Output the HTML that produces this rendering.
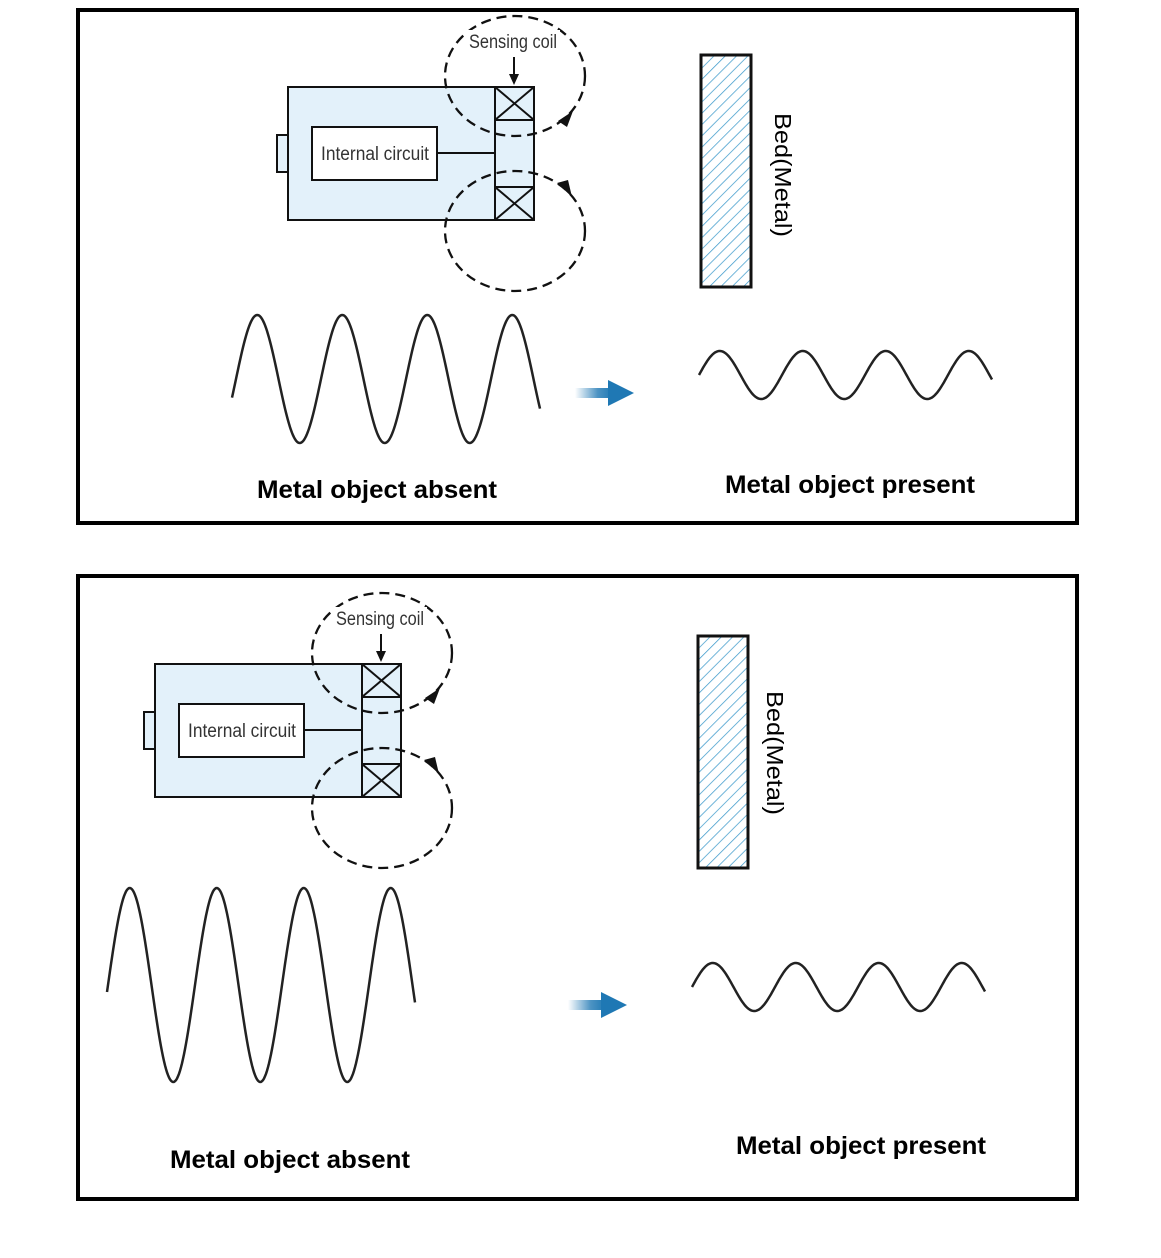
<!DOCTYPE html>
<html><head><meta charset="utf-8"><style>
html,body{margin:0;padding:0;background:#fff;}
svg{display:block;}
.lbl{font-family:"Liberation Sans",sans-serif;font-weight:bold;font-size:25px;fill:#000;}
.small{font-family:"Liberation Sans",sans-serif;font-size:19px;fill:#333;}
</style></head><body>
<svg id="s" width="1161" height="1258" viewBox="0 0 1161 1258" xmlns="http://www.w3.org/2000/svg">
<defs>
<pattern id="hatch" patternUnits="userSpaceOnUse" width="8" height="8" patternTransform="rotate(45)">
<rect width="8" height="8" fill="#fff"/><line x1="0" y1="0" x2="0" y2="8" stroke="#3f9bcc" stroke-width="1.5"/>
</pattern>
<linearGradient id="ag" x1="0" x2="1" y1="0" y2="0">
<stop offset="0" stop-color="#1f78b4" stop-opacity="0"/><stop offset="0.6" stop-color="#1f78b4" stop-opacity="0.8"/><stop offset="1" stop-color="#1f78b4"/>
</linearGradient>
<g id="sensor">
<rect x="277" y="135" width="11" height="37" fill="#e3f1fa" stroke="#111" stroke-width="2"/>
<rect x="288" y="87" width="246" height="133" fill="#e3f1fa" stroke="#111" stroke-width="2"/>
<line x1="495" y1="87" x2="495" y2="220" stroke="#111" stroke-width="2"/>
<rect x="495" y="87" width="39" height="33" fill="#e3f1fa" stroke="#111" stroke-width="2"/>
<line x1="495" y1="87" x2="534" y2="120" stroke="#111" stroke-width="2"/><line x1="534" y1="87" x2="495" y2="120" stroke="#111" stroke-width="2"/>
<rect x="495" y="187" width="39" height="33" fill="#e3f1fa" stroke="#111" stroke-width="2"/>
<line x1="495" y1="187" x2="534" y2="220" stroke="#111" stroke-width="2"/><line x1="534" y1="187" x2="495" y2="220" stroke="#111" stroke-width="2"/>
<rect x="312" y="127" width="125" height="53" fill="#fff" stroke="#111" stroke-width="2"/>
<text x="375" y="160" text-anchor="middle" class="small" textLength="108" lengthAdjust="spacingAndGlyphs">Internal circuit</text>
<line x1="437" y1="153" x2="495" y2="153" stroke="#111" stroke-width="2"/>
<ellipse cx="515" cy="76" rx="70" ry="60" fill="none" stroke="#111" stroke-width="2.3" stroke-dasharray="10,6"/>
<ellipse cx="515" cy="231" rx="70" ry="60" fill="none" stroke="#111" stroke-width="2.3" stroke-dasharray="10,6"/>
<path d="M558,121 L573,111 L567,127 Z" fill="#111"/>
<path d="M557,183 L572,197 L568,180 Z" fill="#111"/>
<rect x="466" y="30" width="94" height="22" fill="#fff"/>
<text x="513" y="48" text-anchor="middle" class="small" textLength="88" lengthAdjust="spacingAndGlyphs">Sensing coil</text>
<line x1="514" y1="57" x2="514" y2="78" stroke="#111" stroke-width="2"/>
<path d="M509,74 L519,74 L514,85 Z" fill="#111"/>
</g>
</defs>
<rect x="78" y="10" width="999" height="513" fill="none" stroke="#000" stroke-width="4"/>
<rect x="78" y="576" width="999" height="623" fill="none" stroke="#000" stroke-width="4"/>
<use href="#sensor"/>
<use href="#sensor" transform="translate(-133,577)"/>
<rect x="701" y="55" width="50" height="232" fill="url(#hatch)" stroke="#111" stroke-width="3"/>
<rect x="698" y="636" width="50" height="232" fill="url(#hatch)" stroke="#111" stroke-width="3"/>
<text transform="translate(775,175) rotate(90)" text-anchor="middle" font-family="Liberation Sans,sans-serif" font-size="23" fill="#000" textLength="124" lengthAdjust="spacingAndGlyphs">Bed(Metal)</text>
<text transform="translate(767,753) rotate(90)" text-anchor="middle" font-family="Liberation Sans,sans-serif" font-size="23" fill="#000" textLength="124" lengthAdjust="spacingAndGlyphs">Bed(Metal)</text>
<path id="w1" fill="none" stroke="#222" stroke-width="2.5"/>
<path id="w2" fill="none" stroke="#222" stroke-width="2.5"/>
<path id="w3" fill="none" stroke="#222" stroke-width="2.5"/>
<path id="w4" fill="none" stroke="#222" stroke-width="2.5"/>
<rect x="575" y="388" width="38" height="10" fill="url(#ag)"/><path d="M608,380 L634,393 L608,406 Z" fill="#1f78b4"/>
<rect x="568" y="1000" width="38" height="10" fill="url(#ag)"/><path d="M601,992 L627,1005 L601,1018 Z" fill="#1f78b4"/>
<text x="377" y="498" text-anchor="middle" class="lbl" textLength="240" lengthAdjust="spacingAndGlyphs">Metal object absent</text>
<text x="850" y="493" text-anchor="middle" class="lbl" textLength="250" lengthAdjust="spacingAndGlyphs">Metal object present</text>
<text x="290" y="1168" text-anchor="middle" class="lbl" textLength="240" lengthAdjust="spacingAndGlyphs">Metal object absent</text>
<text x="861" y="1154" text-anchor="middle" class="lbl" textLength="250" lengthAdjust="spacingAndGlyphs">Metal object present</text>
</svg>
<script>
function w(id,x0,x1,c,A,P,ph){var d="";for(var x=x0;x<=x1;x+=1){var y=c-A*Math.sin(2*Math.PI*(x-ph)/P);d+=(x==x0?"M":"L")+x+","+y.toFixed(1)+" ";}document.getElementById(id).setAttribute("d",d);}
w("w1",232,540,379,64,85,236);
w("w2",699,992,375,24,83,699);
w("w3",107,415,985,97,87,108);
w("w4",692,985,987,24,83,692);
</script>
</body></html>
